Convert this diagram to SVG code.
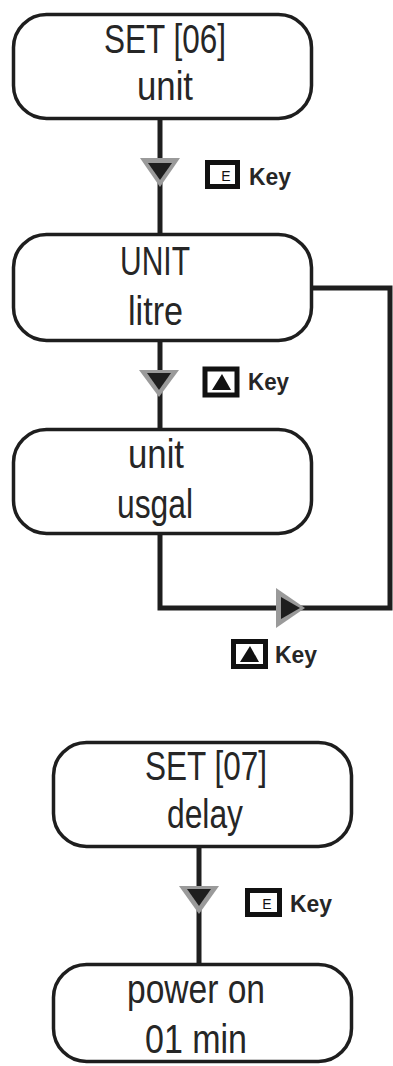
<svg xmlns="http://www.w3.org/2000/svg" width="393" height="1066" viewBox="0 0 393 1066">
<style>
.box{fill:#fff;stroke:#1e1e1e;stroke-width:3.5}
.t{font-family:"Liberation Sans",Arial,sans-serif;font-size:40px;fill:#262626;text-anchor:middle}
.k{font-family:"Liberation Sans",Arial,sans-serif;font-size:24px;font-weight:bold;fill:#262626}
.ln{fill:none;stroke:#1e1e1e;stroke-width:5}
.ao{fill:#9a9a9a}
.ai{fill:#1e1e1e}
.kb{fill:#fff;stroke:#111;stroke-width:5}
.ke{font-family:"Liberation Sans",Arial,sans-serif;font-size:14px;fill:#111;text-anchor:middle}
</style>
<g id="connectors">
<path class="ln" d="M160,120 V233"/>
<path class="ln" d="M160,342 V428"/>
<path class="ln" d="M160,535 V608 H390 V288 H313"/>
<path class="ln" d="M199,848 V963"/>
<polygon class="ao" points="140,158 180,158 160,187"/>
<polygon class="ai" points="148,163 172,163 160,180"/>
<polygon class="ao" points="139,370 179,370 159,397"/>
<polygon class="ai" points="147,373 171,373 159,390"/>
<polygon class="ao" points="276,588 276,628 305,608"/>
<polygon class="ai" points="281,597 281,619 300,608"/>
<polygon class="ao" points="179,886 219,886 199,914"/>
<polygon class="ai" points="187,889 211,889 199,906"/>
</g>
<g id="key1">
<rect class="kb" x="207.5" y="162.5" width="30" height="24"/>
<text class="ke" x="226" y="181">E</text>
<text class="k" x="249" y="185" textLength="42" lengthAdjust="spacingAndGlyphs">Key</text>
</g>
<g id="key2">
<rect class="kb" x="205" y="369" width="32" height="26"/>
<polygon fill="#111" points="212,390 231,390 222,374"/>
<text class="k" x="248" y="390" textLength="41" lengthAdjust="spacingAndGlyphs">Key</text>
</g>
<g id="key3">
<rect class="kb" x="233.5" y="641.5" width="32" height="25"/>
<polygon fill="#111" points="240,662 259,662 250,646"/>
<text class="k" x="275" y="663" textLength="42" lengthAdjust="spacingAndGlyphs">Key</text>
</g>
<g id="key4">
<rect class="kb" x="247.5" y="890.5" width="32" height="24"/>
<text class="ke" x="267" y="909">E</text>
<text class="k" x="290" y="912" textLength="42" lengthAdjust="spacingAndGlyphs">Key</text>
</g>
<g id="set06">
<rect class="box" x="13.5" y="14.5" width="298" height="104" rx="33"/>
<text class="t" x="165" y="53" textLength="122" lengthAdjust="spacingAndGlyphs">SET [06]</text>
<text class="t" x="165" y="100" textLength="56" lengthAdjust="spacingAndGlyphs">unit</text>
</g>
<g id="unit-litre">
<rect class="box" x="13.5" y="234.5" width="298" height="106" rx="33"/>
<text class="t" x="155" y="275" textLength="70" lengthAdjust="spacingAndGlyphs">UNIT</text>
<text class="t" x="155.5" y="325" textLength="55" lengthAdjust="spacingAndGlyphs">litre</text>
</g>
<g id="unit-usgal">
<rect class="box" x="13.5" y="429.5" width="298" height="104" rx="33"/>
<text class="t" x="156" y="468" textLength="56" lengthAdjust="spacingAndGlyphs">unit</text>
<text class="t" x="155" y="518" textLength="76" lengthAdjust="spacingAndGlyphs">usgal</text>
</g>
<g id="set07">
<rect class="box" x="53.5" y="742.5" width="298" height="104" rx="33"/>
<text class="t" x="206" y="780" textLength="122" lengthAdjust="spacingAndGlyphs">SET [07]</text>
<text class="t" x="205" y="828" textLength="76" lengthAdjust="spacingAndGlyphs">delay</text>
</g>
<g id="power-on">
<rect class="box" x="53.5" y="964.5" width="298" height="97" rx="33"/>
<text class="t" x="196" y="1003" textLength="138" lengthAdjust="spacingAndGlyphs">power on</text>
<text class="t" x="196" y="1053" textLength="102" lengthAdjust="spacingAndGlyphs">01 min</text>
</g>
</svg>
